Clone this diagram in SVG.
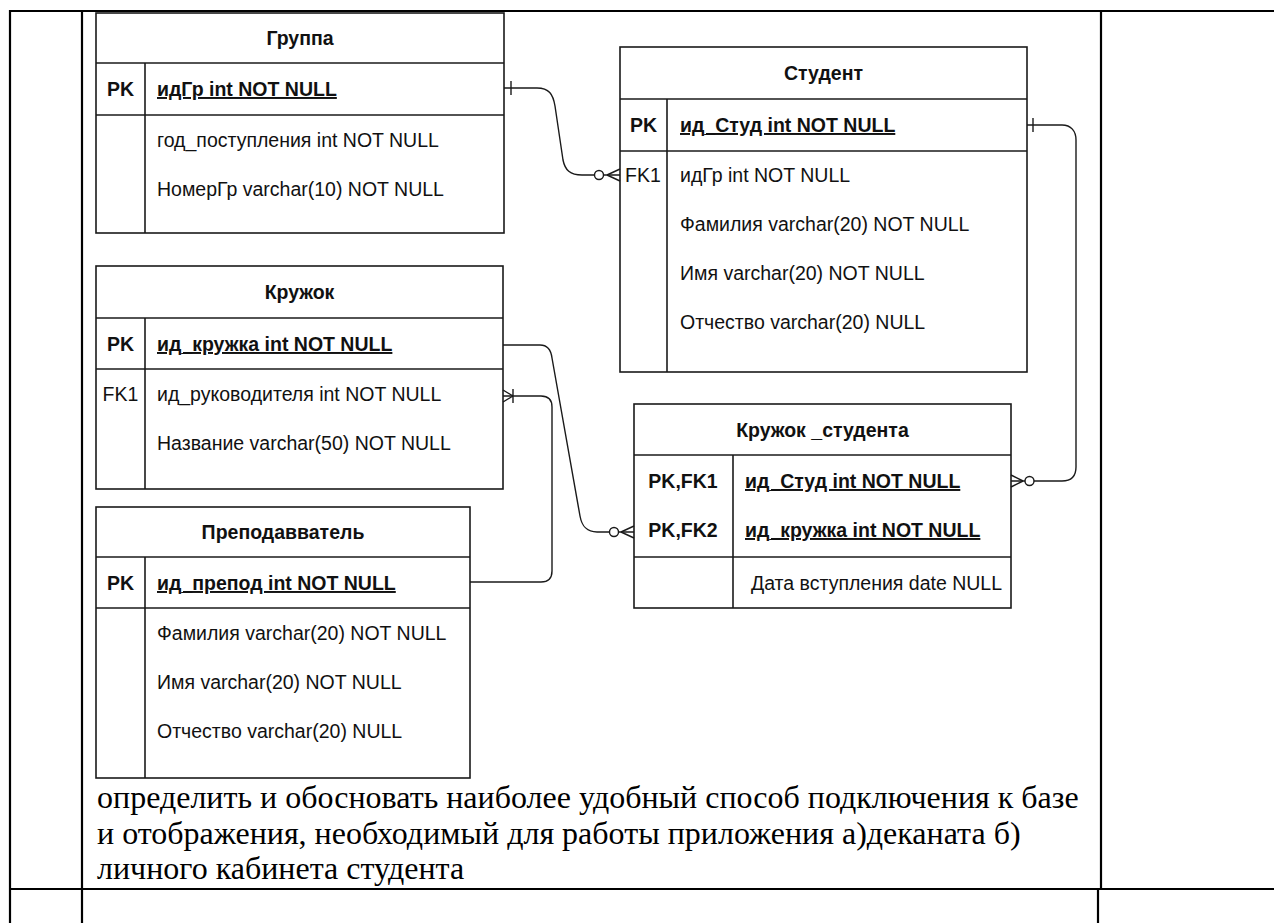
<svg xmlns="http://www.w3.org/2000/svg" width="1274" height="923" viewBox="0 0 1274 923">
<style>
.frame{stroke:#000;stroke-width:2.2;fill:none}
.box{fill:#fff;stroke:#1a1a1a;stroke-width:1.6}
.ln{stroke:#1a1a1a;stroke-width:1.6;fill:none}
.t{font-family:"Liberation Sans",Arial,sans-serif;font-size:19.5px;fill:#111}
.b{font-weight:bold}
.c{text-anchor:middle}
.u{text-decoration:underline}
.edge{stroke:#1a1a1a;stroke-width:1.4;fill:none}
.circ{fill:#fff;stroke:#1a1a1a;stroke-width:1.4}
.doc{font-family:"Liberation Serif","Times New Roman",serif;font-size:32px;fill:#000}
</style>
<rect width="1274" height="923" fill="#fff"/>
<g id="page-table">
<line class="frame" x1="9" y1="11" x2="1274" y2="11"/>
<line class="frame" x1="10" y1="10" x2="10" y2="923"/>
<line class="frame" x1="82" y1="11" x2="82" y2="923"/>
<line class="frame" x1="1101" y1="11" x2="1101" y2="889"/>
<line class="frame" x1="1098" y1="889" x2="1098" y2="923"/>
<line class="frame" x1="9" y1="889" x2="1274" y2="889"/>
</g>
<g id="gruppa">
<rect class="box" x="96" y="13" width="408" height="220"/>
<line class="ln" x1="96" y1="63" x2="504" y2="63"/>
<line class="ln" x1="96" y1="115" x2="504" y2="115"/>
<line class="ln" x1="145" y1="63" x2="145" y2="233"/>
<text class="t b c" x="300" y="45">Группа</text>
<text class="t b c" x="120.5" y="96">PK</text>
<text class="t b u" x="157" y="96">идГр int NOT NULL</text>
<text class="t" x="157" y="147">год_поступления int NOT NULL</text>
<text class="t" x="157" y="196">НомерГр varchar(10) NOT NULL</text>
</g>
<g id="student">
<rect class="box" x="620" y="47" width="407" height="325"/>
<line class="ln" x1="620" y1="99" x2="1027" y2="99"/>
<line class="ln" x1="620" y1="151" x2="1027" y2="151"/>
<line class="ln" x1="667" y1="99" x2="667" y2="372"/>
<text class="t b c" x="823.5" y="80">Студент</text>
<text class="t b c" x="643.5" y="132">PK</text>
<text class="t b u" x="680" y="132">ид_Студ int NOT NULL</text>
<text class="t c" x="643" y="182">FK1</text>
<text class="t" x="680" y="182">идГр int NOT NULL</text>
<text class="t" x="680" y="231">Фамилия varchar(20) NOT NULL</text>
<text class="t" x="680" y="280">Имя varchar(20) NOT NULL</text>
<text class="t" x="680" y="329">Отчество varchar(20) NULL</text>
</g>
<g id="kruzhok">
<rect class="box" x="96" y="266" width="407" height="223"/>
<line class="ln" x1="96" y1="318" x2="503" y2="318"/>
<line class="ln" x1="96" y1="369" x2="503" y2="369"/>
<line class="ln" x1="145" y1="318" x2="145" y2="489"/>
<text class="t b c" x="299.5" y="299">Кружок</text>
<text class="t b c" x="120.5" y="351">PK</text>
<text class="t b u" x="157" y="351">ид_кружка int NOT NULL</text>
<text class="t c" x="120.5" y="401">FK1</text>
<text class="t" x="157" y="401">ид_руководителя int NOT NULL</text>
<text class="t" x="157" y="450">Название varchar(50) NOT NULL</text>
</g>
<g id="prepodavatel">
<rect class="box" x="96" y="507" width="374" height="271"/>
<line class="ln" x1="96" y1="557" x2="470" y2="557"/>
<line class="ln" x1="96" y1="608" x2="470" y2="608"/>
<line class="ln" x1="145" y1="557" x2="145" y2="778"/>
<text class="t b c" x="283" y="539">Преподавватель</text>
<text class="t b c" x="120.5" y="590">PK</text>
<text class="t b u" x="157" y="590">ид_препод int NOT NULL</text>
<text class="t" x="157" y="640">Фамилия varchar(20) NOT NULL</text>
<text class="t" x="157" y="689">Имя varchar(20) NOT NULL</text>
<text class="t" x="157" y="738">Отчество varchar(20) NULL</text>
</g>
<g id="kruzhok-studenta">
<rect class="box" x="634" y="404" width="377" height="204"/>
<line class="ln" x1="634" y1="455" x2="1011" y2="455"/>
<line class="ln" x1="634" y1="557" x2="1011" y2="557"/>
<line class="ln" x1="733" y1="455" x2="733" y2="608"/>
<text class="t b c" x="822.5" y="436.5">Кружок _студента</text>
<text class="t b c" x="683" y="488">PK,FK1</text>
<text class="t b u" x="745" y="488">ид_Студ int NOT NULL</text>
<text class="t b c" x="683" y="537">PK,FK2</text>
<text class="t b u" x="745" y="537">ид_кружка int NOT NULL</text>
<text class="t" x="751" y="589.5">Дата вступления date NULL</text>
</g>
<g id="connectors">
<path class="edge" d="M504,88 H537 C549,88 553,94 555,106 L563,160 C565,170 570,175 582,175 H620"/>
<line class="edge" x1="511" y1="81" x2="511" y2="95"/>
<path class="edge" d="M607,175 L620,169 M607,175 L620,181"/>
<circle class="circ" cx="599" cy="175" r="4.5"/>
<path class="edge" d="M1027,125 H1062 C1071,125 1076,131 1076,140 V467 C1076,476 1071,481 1062,481 H1011"/>
<line class="edge" x1="1033" y1="118" x2="1033" y2="132"/>
<path class="edge" d="M1023,481 L1011,475 M1023,481 L1011,487"/>
<circle class="circ" cx="1029.5" cy="481" r="4.5"/>
<path class="edge" d="M503,345 H540 C548,345 551,350 552,358 L580,516 C582,527 587,532 597,532 H634"/>
<path class="edge" d="M621,532 L634,526 M621,532 L634,538"/>
<circle class="circ" cx="614" cy="532" r="4.5"/>
<path class="edge" d="M470,582 H541 C548,582 552,578 552,571 V407 C552,400 548,396 541,396 H503"/>
<path class="edge" d="M513,396 L503,390 M513,396 L503,402 M513,389 L513,403"/>
</g>
<g id="task-text">
<text class="doc" x="97" y="808">определить и обосновать наиболее удобный способ подключения к базе</text>
<text class="doc" x="97" y="844">и отображения, необходимый для работы приложения а)деканата б)</text>
<text class="doc" x="97" y="879">личного кабинета студента</text>
</g>
</svg>
